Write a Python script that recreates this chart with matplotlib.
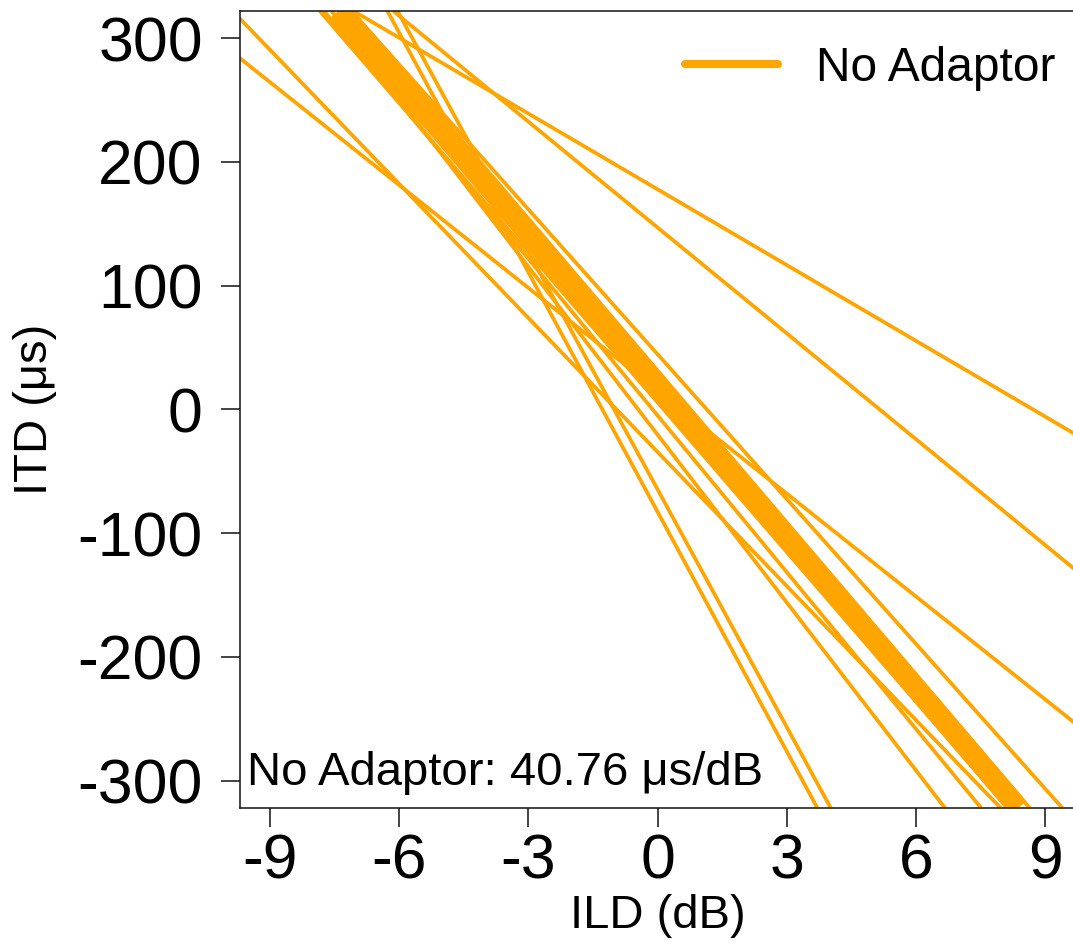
import matplotlib
matplotlib.use("Agg")
import matplotlib.pyplot as plt
from matplotlib.lines import Line2D

plt.rcParams["font.family"] = ["Liberation Sans", "DejaVu Sans"]

# per-subject ITD-vs-ILD regression lines (slope in us/dB, intercept in us)
subject_slopes = [-64.5, -64.0, -20.4, -28.5, -36.1, -27.7, -42.2, -45.2, -39.0, -40.3, -40.9]
subject_intercepts = [-82.8, -64.7, 177.9, 147.0, -34.4, 15.1, -4.9, -20.4, 44.6, 5.7, 31.4]

# group mean line
mean_slope = -40.76
mean_intercept = 19.5

condition = "No Adaptor"
x_ticks = [-9, -6, -3, 0, 3, 6, 9]
y_ticks = [-300, -200, -100, 0, 100, 200, 300]

color = "#FFA500"

fig = plt.figure(figsize=(10.73, 9.49), dpi=100)
ax = fig.add_axes([0.2233, 0.1486, 0.7792, 0.8398])

for m, b in zip(subject_slopes, subject_intercepts):
    ax.axline((0, b), slope=m, color=color, lw=2.7, solid_capstyle="butt")
ax.axline((0, mean_intercept), slope=mean_slope, color=color, lw=15, solid_capstyle="butt")

ax.set_xlim(-9.71, 9.71)
ax.set_ylim(-322, 322)
ax.set_xticks(x_ticks)
ax.set_xticklabels([str(t) for t in x_ticks])
ax.set_yticks(y_ticks)
ax.set_yticklabels([str(t) for t in y_ticks])

ax.spines["right"].set_visible(False)
for side in ["left", "top", "bottom"]:
    ax.spines[side].set_linewidth(1.1)
    ax.spines[side].set_color("#111111")

ax.tick_params(axis="both", length=13.5, width=1.1, color="#111111", labelsize=45)
ax.tick_params(axis="x", pad=4)
ax.tick_params(axis="y", pad=13)

ax.set_xlabel("ILD (dB)", fontsize=34, va="center")
ax.xaxis.set_label_coords(0.5, -0.135)
ax.set_ylabel("ITD (\u03bcs)", fontsize=34, va="center")
ax.yaxis.set_label_coords(-0.245, 0.5)

ax.text(0.009, 0.044, f"{condition}: 40.76 \u03bcs/dB", transform=ax.transAxes,
        fontsize=34, ha="left", va="center")

handle = Line2D([], [], color=color, lw=5.8, solid_capstyle="round")
ax.legend([handle], [condition], loc="center right", bbox_to_anchor=(0.976, 0.928),
          frameon=False, fontsize=34.5, handlelength=1.94, handletextpad=0.8,
          borderpad=0, borderaxespad=0)

fig.savefig("out.png", dpi=100)
